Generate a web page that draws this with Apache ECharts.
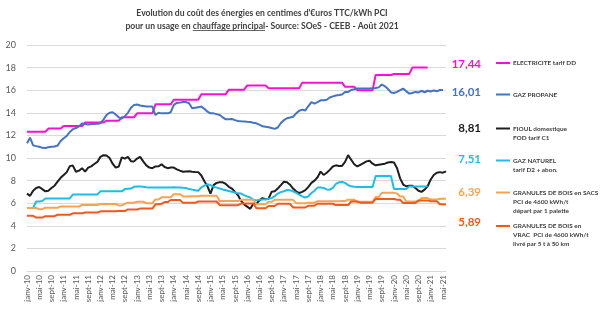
<!DOCTYPE html>
<html>
<head>
<meta charset="utf-8">
<script src="https://cdn.jsdelivr.net/npm/echarts@6/dist/echarts.min.js"></script>
<style>
  html, body { margin: 0; padding: 0; background: #ffffff; }
  #chart { width: 600px; height: 324px; }
</style>
</head>
<body>
<div id="chart"></div>
<script>
// Monthly categories, janv-10 .. juin-21
const monthNames = ['janv', 'févr', 'mars', 'avr', 'mai', 'juin', 'juil', 'août', 'sept', 'oct', 'nov', 'déc'];
const startYear = 10;
const monthCount = 138;
const categories = [];
for (let i = 0; i < monthCount; i++) {
  categories.push(monthNames[i % 12] + '-' + String(startYear + Math.floor(i / 12)).padStart(2, '0'));
}

// Prices in c€ TTC / kWh PCI, one row per year
const electricite = [
  12.33, 12.33, 12.33, 12.33, 12.33, 12.33, 12.33, 12.6, 12.6, 12.6, 12.6, 12.6,
  12.83, 12.83, 12.83, 12.83, 12.83, 12.83, 12.83, 13.15, 13.15, 13.15, 13.15, 13.15,
  13.15, 13.15, 13.3, 13.3, 13.3, 13.3, 13.3, 13.6, 13.6, 13.6, 13.6, 13.6,
  13.95, 13.95, 13.95, 13.95, 13.95, 13.95, 14.75, 14.75, 14.75, 14.75, 14.75, 14.75,
  15.15, 15.15, 15.15, 15.15, 15.15, 15.15, 15.15, 15.15, 15.15, 15.65, 15.65, 15.65,
  15.65, 15.65, 15.65, 15.65, 15.65, 15.65, 16.05, 16.05, 16.05, 16.05, 16.05, 16.05,
  16.42, 16.42, 16.42, 16.42, 16.42, 16.42, 16.42, 16.18, 16.18, 16.18, 16.18, 16.18,
  16.18, 16.18, 16.18, 16.18, 16.18, 16.18, 16.67, 16.67, 16.67, 16.67, 16.67, 16.67,
  16.67, 16.67, 16.67, 16.67, 16.67, 16.67, 16.67, 16.67, 16.3, 16.3, 16.3, 16.3,
  16.0, 16.0, 16.0, 16.0, 16.0, 16.0, 17.35, 17.35, 17.35, 17.35, 17.35, 17.35,
  17.44, 17.44, 17.44, 17.44, 17.44, 17.44, 18.0, 18.0, 18.0, 18.0, 18.0, 18.0,
  null, null, null, null, null, null
];
const gazPropane = [
  11.3, 11.8, 11.12, 11.05, 11.0, 10.9, 10.88, 10.95, 11.0, 11.02, 11.1, 11.5,
  11.75, 11.95, 12.3, 12.55, 12.65, 12.8, 13.05, 13.0, 12.97, 13.0, 13.0, 13.02,
  13.08, 13.4, 13.8, 14.0, 14.05, 13.85, 13.6, 13.5, 13.7, 14.0, 14.45, 14.7,
  14.73, 14.65, 14.6, 14.55, 14.55, 14.55, 13.8, 14.0, 13.95, 13.95, 13.95, 14.05,
  14.7, 14.87, 14.9, 14.95, 14.95, 14.85, 14.4, 14.45, 14.5, 14.55, 14.35, 14.1,
  13.95, 13.95, 13.88, 13.8, 13.6, 13.42, 13.42, 13.45, 13.35, 13.28, 13.25, 13.23,
  13.2, 13.18, 13.12, 13.07, 12.95, 12.8, 12.77, 12.72, 12.65, 12.58, 12.7, 13.1,
  13.35, 13.52, 13.58, 13.65, 13.95, 14.18, 14.28, 14.2, 14.6, 14.95, 14.82, 14.95,
  15.1, 15.12, 15.15, 15.35, 15.45, 15.53, 15.57, 15.62, 15.85, 15.85, 16.02, 16.08,
  16.15, 16.15, 16.15, 16.15, 16.15, 16.17, 16.19, 16.25, 16.5, 16.35, 16.12, 15.8,
  15.75, 15.85, 16.0, 16.15, 15.9, 15.7, 15.75, 15.85, 15.8, 15.95, 15.82, 15.95,
  15.88, 15.98, 15.9, 16.02, 16.01, null
];
const fioulDomestique = [
  6.85, 6.65, 7.1, 7.35, 7.43, 7.25, 7.05, 7.1, 7.35, 7.55, 7.9, 8.25,
  8.5, 8.75, 9.28, 9.33, 8.78, 8.88, 9.1, 8.8, 9.15, 9.26, 9.47, 9.65,
  10.1, 10.25, 10.22, 10.0, 9.5, 9.15, 9.25, 10.05, 9.95, 10.1, 9.72, 9.7,
  9.95, 10.1, 9.7, 9.35, 9.15, 9.1, 9.25, 9.26, 9.45, 9.2, 9.1, 9.15,
  9.15, 9.0, 8.88, 8.78, 8.8, 8.82, 8.78, 8.76, 8.75, 8.45, 7.95, 7.5,
  6.85, 7.6, 7.8, 7.85, 7.85, 7.7, 7.45, 7.3, 7.0, 6.7, 6.2, 5.9,
  5.7, 5.5, 5.95, 5.95, 6.25, 6.45, 6.35, 6.4, 7.02, 7.05, 7.3, 7.6,
  7.9, 7.85, 7.64, 7.3, 7.05, 6.9, 7.0, 7.15, 7.45, 7.8, 8.0, 8.3,
  8.8, 8.5, 8.7, 8.95, 9.25, 9.35, 9.3, 9.3, 9.65, 10.25, 9.85, 9.45,
  9.25, 9.4, 9.55, 9.7, 9.75, 9.5, 9.35, 9.4, 9.45, 9.5, 9.6, 9.65,
  9.6, 9.1, 8.2, 7.65, 7.5, 7.55, 7.55, 7.35, 7.1, 7.0, 7.2, 7.5,
  8.1, 8.5, 8.7, 8.75, 8.7, 8.81
];
const gazNaturel = [
  5.57, 5.57, 5.6, 6.15, 6.15, 6.2, 6.42, 6.42, 6.42, 6.42, 6.42, 6.42,
  6.42, 6.42, 6.42, 6.77, 6.77, 6.77, 6.77, 6.77, 6.77, 6.77, 6.77, 6.77,
  7.05, 7.05, 7.05, 7.05, 7.05, 7.05, 7.05, 7.05, 7.25, 7.28, 7.3, 7.45,
  7.48, 7.48, 7.45, 7.42, 7.4, 7.38, 7.4, 7.38, 7.4, 7.4, 7.38, 7.4,
  7.42, 7.4, 7.38, 7.36, 7.35, 7.25, 7.2, 7.15, 7.1, 7.4, 7.55, 7.68,
  7.6, 7.45, 7.38, 7.3, 7.22, 7.15, 7.08, 7.02, 6.95, 6.87, 6.85, 6.72,
  6.6, 6.5, 6.3, 6.25, 6.3, 6.32, 6.35, 6.4, 6.45, 6.62, 6.85, 6.98,
  7.05, 7.17, 7.15, 7.05, 6.92, 6.75, 6.6, 6.5, 6.6, 6.9, 7.1, 7.38,
  7.4, 7.35, 7.22, 7.2, 7.35, 7.7, 7.85, 7.88, 7.8, 7.6, 7.5, 7.45,
  7.43, 7.43, 7.43, 7.43, 7.43, 7.43, 8.4, 8.4, 8.4, 8.4, 8.4, 8.4,
  7.25, 7.25, 7.25, 7.25, 7.25, 7.48, 7.48, 7.48, 7.48, 7.48, 7.48, 7.51,
  null, null, null, null, null, null
];
const granulesSacs = [
  5.57, 5.57, 5.57, 5.57, 5.47, 5.47, 5.6, 5.6, 5.6, 5.6, 5.6, 5.7,
  5.7, 5.7, 5.7, 5.7, 5.7, 5.7, 5.84, 5.84, 5.84, 5.84, 5.84, 5.84,
  5.93, 5.93, 5.93, 5.93, 5.93, 5.93, 5.8, 5.8, 5.95, 6.05, 6.05, 6.05,
  6.13, 6.13, 6.13, 6.0, 6.0, 6.0, 6.33, 6.33, 6.52, 6.52, 6.52, 6.52,
  6.8, 6.8, 6.8, 6.6, 6.6, 6.6, 6.62, 6.62, 6.62, 6.65, 6.65, 6.65,
  6.65, 6.65, 6.65, 6.2, 6.2, 6.2, 6.2, 6.2, 6.2, 6.2, 6.3, 6.3,
  6.3, 6.3, 6.3, 5.9, 5.9, 5.9, 5.9, 6.12, 6.12, 6.3, 6.3, 6.3,
  6.3, 6.3, 6.3, 6.3, 6.0, 6.0, 6.0, 6.0, 6.05, 6.05, 6.05, 6.17,
  6.17, 6.17, 6.17, 6.17, 6.17, 6.17, 6.17, 6.2, 6.2, 6.3, 6.3, 6.3,
  6.12, 6.12, 6.12, 6.12, 6.12, 6.12, 6.55, 6.55, 6.92, 6.92, 6.92, 6.92,
  6.92, 6.85, 6.6, 6.6, 6.15, 6.15, 6.15, 6.15, 6.15, 6.45, 6.45, 6.45,
  6.32, 6.32, 6.32, 6.4, 6.4, 6.39
];
const granulesVrac = [
  4.88, 4.88, 4.88, 4.73, 4.73, 4.73, 4.85, 4.85, 4.85, 4.85, 4.98, 4.98,
  4.98, 4.98, 4.98, 5.1, 5.1, 5.1, 5.1, 5.18, 5.18, 5.18, 5.18, 5.18,
  5.28, 5.28, 5.28, 5.28, 5.28, 5.28, 5.3, 5.3, 5.3, 5.45, 5.45, 5.45,
  5.45, 5.52, 5.52, 5.52, 5.52, 5.52, 5.9, 5.9, 5.95, 6.1, 6.1, 6.28,
  6.28, 6.28, 6.28, 6.03, 6.03, 6.03, 6.03, 6.03, 6.15, 6.15, 6.15, 6.15,
  6.15, 6.15, 6.15, 5.82, 5.82, 5.82, 5.82, 5.82, 5.82, 5.82, 5.97, 5.97,
  5.97, 5.97, 5.97, 5.55, 5.55, 5.55, 5.55, 5.75, 5.75, 5.75, 5.95, 5.95,
  5.95, 5.95, 5.95, 5.62, 5.62, 5.62, 5.62, 5.62, 5.78, 5.78, 5.78, 5.95,
  5.95, 5.95, 5.95, 5.95, 5.95, 5.83, 5.83, 5.83, 5.83, 5.83, 6.15, 6.15,
  6.15, 6.05, 6.05, 6.05, 6.05, 6.05, 6.38, 6.38, 6.38, 6.38, 6.38, 6.38,
  6.38, 6.3, 6.3, 6.02, 6.02, 6.02, 6.02, 6.02, 6.25, 6.25, 6.25, 6.25,
  6.17, 6.17, 6.17, 5.9, 5.9, 5.89
];

// Series description: name, data, colour, latest value label, legend lines
const seriesInfo = [
  { name: 'ELECTRICITE tarif DD', data: electricite, color: '#FF10D0', value: '17,44', lines: ['ELECTRICITE tarif DD'] },
  { name: 'GAZ PROPANE', data: gazPropane, color: '#4472C4', value: '16,01', lines: ['GAZ PROPANE'] },
  { name: 'FIOUL domestique FOD tarif C1', data: fioulDomestique, color: '#1E1E1E', value: '8,81', lines: ['FIOUL domestique', 'FOD tarif C1'] },
  { name: 'GAZ NATUREL tarif D2 + abon.', data: gazNaturel, color: '#1FBCE3', value: '7,51', lines: ['GAZ NATUREL', 'tarif D2 + abon.'] },
  { name: 'GRANULES DE BOIS en SACS', data: granulesSacs, color: '#F7A450', value: '6,39', lines: ['GRANULES DE BOIS en SACS', 'PCI de 4600 kWh/t', 'départ par 1 palette'] },
  { name: 'GRANULES DE BOIS en VRAC', data: granulesVrac, color: '#F2591E', value: '5,89', lines: ['GRANULES DE BOIS en', 'VRAC  PCI de 4600 kWh/t', 'livré par 5 t à 50 km'] }
];

const FONT = 'Lato, "Liberation Sans", Arial, sans-serif';
const titleLine1 = "Evolution du coût des énergies en centimes d'€uros TTC/kWh PCI";
const titlePrefix = 'pour un usage en ';
const titleUnderlined = 'chauffage principal';
const titleSuffix = '- Source: SOeS - CEEB - Août 2021';

// Layout of the side annotations
const valueLabelY = [64, 92, 128.5, 159.5, 192, 222.5];
const legendY = [63, 94.5, 128.5, 160.5, 192.5, 226];
const legendLineGap = 9.2;

function measure(str, font) {
  const ctx = document.createElement('canvas').getContext('2d');
  ctx.font = font;
  return ctx.measureText(str).width;
}

const graphics = [];
const titleFont = 'bold 8.6px ' + FONT;
const titleX = 262;
graphics.push({
  type: 'text', x: titleX, y: 13,
  style: { text: titleLine1, font: titleFont, fill: '#404040', align: 'center', verticalAlign: 'middle' }
});
const line2 = titlePrefix + titleUnderlined + titleSuffix;
graphics.push({
  type: 'text', x: titleX, y: 26,
  style: { text: line2, font: titleFont, fill: '#404040', align: 'center', verticalAlign: 'middle' }
});
const w2 = measure(line2, titleFont);
const uStart = titleX - w2 / 2 + measure(titlePrefix, titleFont);
const uEnd = uStart + measure(titleUnderlined, titleFont);
graphics.push({
  type: 'line', shape: { x1: uStart, y1: 30.5, x2: uEnd, y2: 30.5 },
  style: { stroke: '#404040', lineWidth: 0.8 }
});

seriesInfo.forEach((s, k) => {
  graphics.push({
    type: 'text', x: 481, y: valueLabelY[k],
    style: { text: s.value, font: 'bold 11.5px ' + FONT, fill: s.color, align: 'right', verticalAlign: 'middle' }
  });
  graphics.push({
    type: 'line', shape: { x1: 496, y1: legendY[k], x2: 510, y2: legendY[k] },
    style: { stroke: s.color, lineWidth: 2 }
  });
  s.lines.forEach((t, j) => {
    graphics.push({
      type: 'text', x: 513, y: legendY[k] + j * legendLineGap,
      style: { text: t, font: 'bold 6.4px ' + FONT, fill: '#404040', align: 'left', verticalAlign: 'middle' }
    });
  });
});

const chart = echarts.init(document.getElementById('chart'), null, { renderer: 'canvas' });
chart.setOption({
  animation: false,
  backgroundColor: '#ffffff',
  grid: { left: 27, right: 154, top: 45, bottom: 53 },
  xAxis: {
    type: 'category',
    data: categories,
    boundaryGap: false,
    axisLine: { show: true, lineStyle: { color: '#d9d9d9', width: 1 } },
    axisTick: { show: false },
    axisLabel: { interval: 3, rotate: 90, fontSize: 8, color: '#595959', fontFamily: FONT, margin: 4 }
  },
  yAxis: {
    type: 'value',
    min: 0, max: 20, interval: 2,
    axisLine: { show: false },
    axisTick: { show: false },
    axisLabel: { fontSize: 9, color: '#595959', fontFamily: FONT, margin: 11 },
    splitLine: { lineStyle: { color: '#d9d9d9', width: 1 } }
  },
  series: seriesInfo.map(s => ({
    name: s.name,
    type: 'line',
    data: s.data,
    symbol: 'none',
    connectNulls: false,
    lineStyle: { color: s.color, width: 2 },
    itemStyle: { color: s.color }
  })),
  graphic: graphics
});
</script>
</body>
</html>
